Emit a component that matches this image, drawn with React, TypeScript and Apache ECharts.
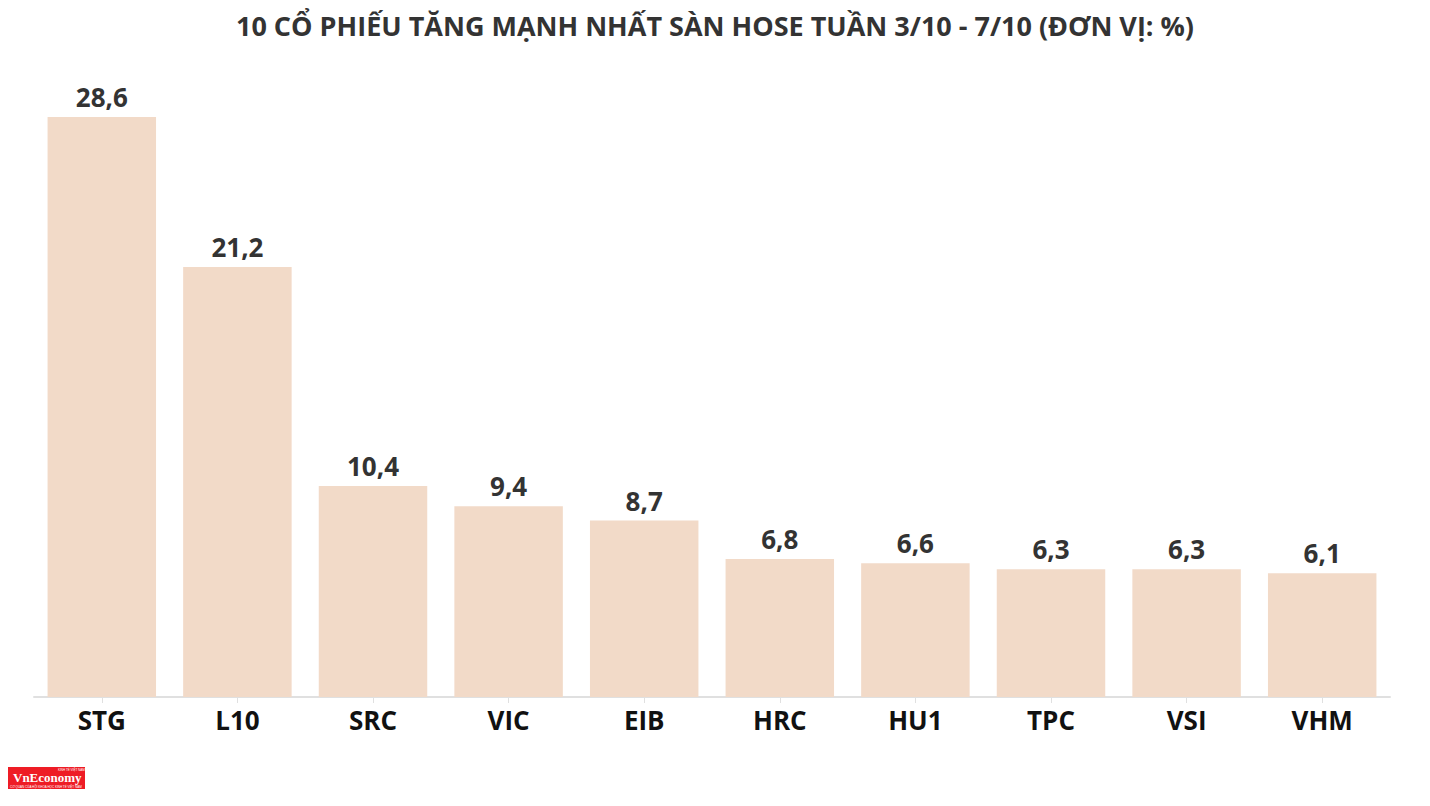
import React, { useEffect, useRef } from "react";
import * as echarts from "echarts";

const categories = ["STG", "L10", "SRC", "VIC", "EIB", "HRC", "HU1", "TPC", "VSI", "VHM"];
const values = [28.6, 21.2, 10.4, 9.4, 8.7, 6.8, 6.6, 6.3, 6.3, 6.1];
const title = "10 CỔ PHIẾU TĂNG MẠNH NHẤT SÀN HOSE TUẦN 3/10 - 7/10 (ĐƠN VỊ: %)";

export default function App() {
  const ref = useRef<HTMLDivElement>(null);
  useEffect(() => {
    const chart = echarts.init(ref.current!, null, { renderer: "svg" });
    const font = "'Open Sans', 'Noto Sans', sans-serif";
    chart.setOption({
      animation: false,
      title: {
        text: title,
        left: "center",
        top: 7,
        textStyle: { fontFamily: font, fontSize: 27, fontWeight: "bold", color: "#333" },
      },
      grid: { left: 34, right: 40, top: 117, bottom: 109 },
      xAxis: {
        type: "category",
        data: categories,
        axisLine: { lineStyle: { color: "#e0e0e0", width: 2 } },
        axisTick: { show: true, alignWithLabel: true, length: 6, lineStyle: { color: "#e0e0e0" } },
        axisLabel: { fontFamily: font, fontSize: 26, fontWeight: "bold", color: "#111", margin: 10 },
      },
      yAxis: { type: "value", min: 0, max: 28.6, show: false, splitLine: { show: false } },
      series: [
        {
          type: "bar",
          data: values,
          barWidth: "80%",
          itemStyle: { color: "#f2dac8" },
          label: {
            show: true,
            position: "top",
            distance: 7,
            fontFamily: font,
            fontSize: 26,
            fontWeight: "bold",
            color: "#333",
            formatter: (p: any) => String(p.value).replace(".", ","),
          },
        },
      ],
      graphic: [
        {
          type: "group",
          left: 8,
          top: 767,
          children: [
            { type: "rect", shape: { x: 0, y: 0, width: 77, height: 22 }, style: { fill: "#ee1c25" } },
            {
              type: "text",
              x: 5,
              y: 4,
              style: { text: "VnEconomy", font: "bold 13px 'Liberation Serif', serif", fill: "#fff" },
            },
            {
              type: "text",
              x: 50,
              y: 1,
              style: { text: "KINH TẾ VIỆT NAM", font: "3px sans-serif", fill: "#fff" },
            },
            {
              type: "text",
              x: 2,
              y: 18,
              style: { text: "CƠ QUAN CỦA HỘI KHOA HỌC KINH TẾ VIỆT NAM", font: "3px sans-serif", fill: "#fff" },
            },
          ],
        },
      ],
    });
    return () => chart.dispose();
  }, []);
  return <div ref={ref} style={{ width: 1430, height: 806, margin: -8 }} />;
}
